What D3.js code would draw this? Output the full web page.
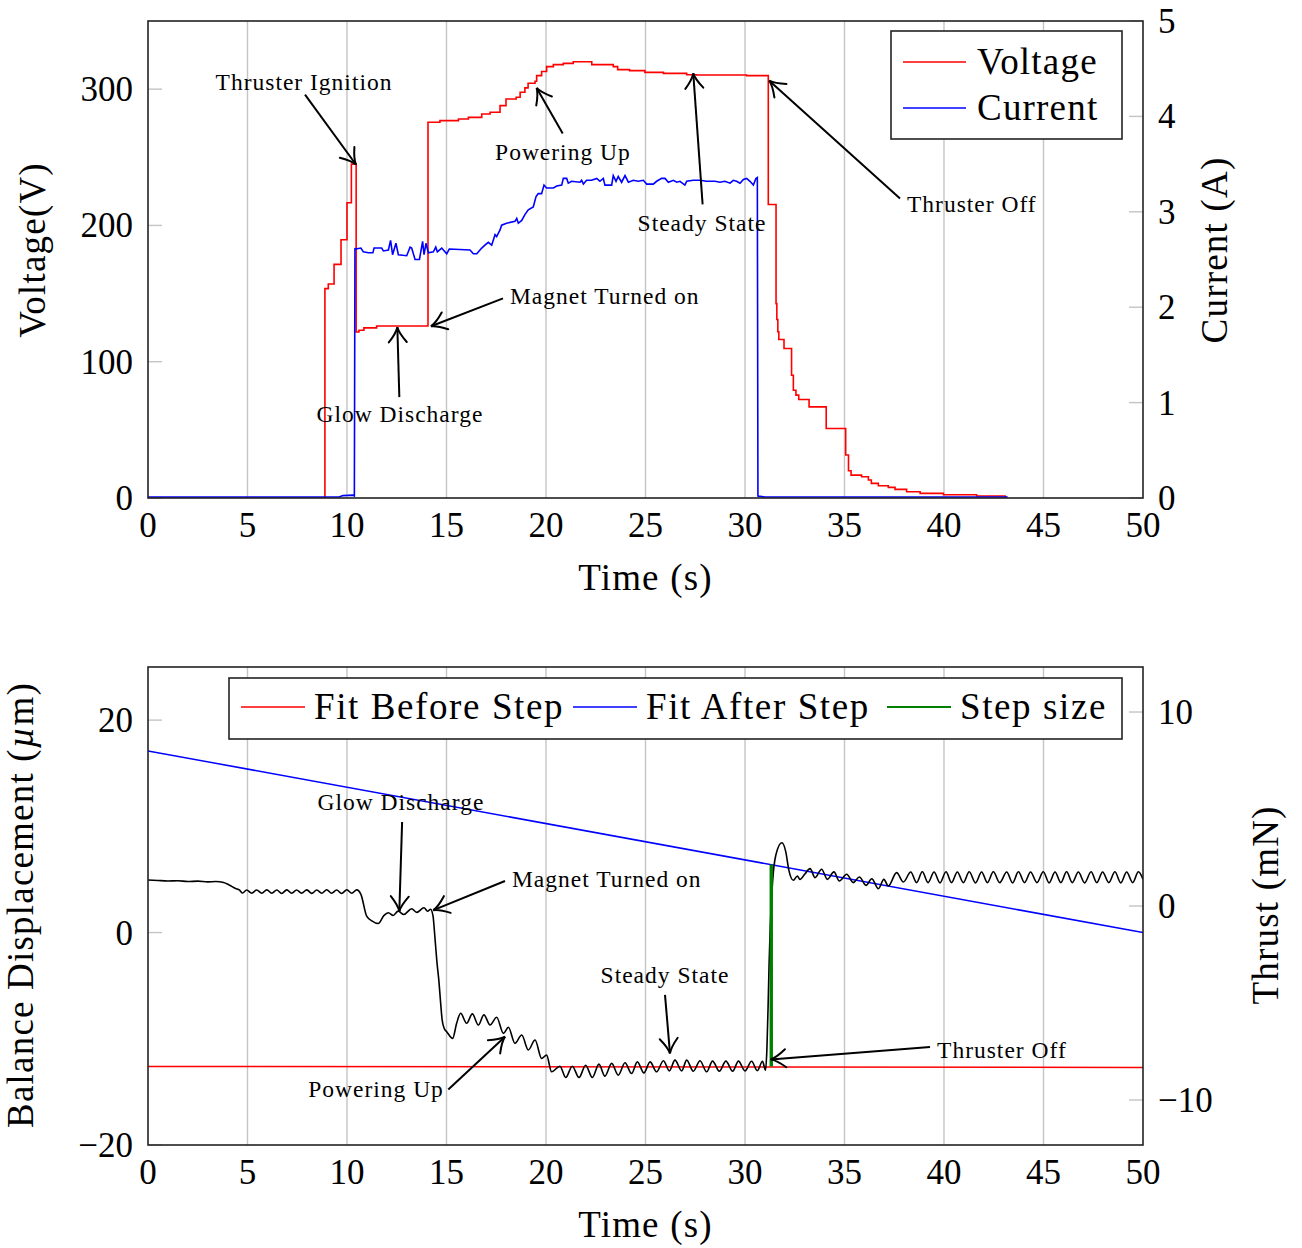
<!DOCTYPE html>
<html>
<head>
<meta charset="utf-8">
<script src="https://cdn.jsdelivr.net/npm/d3@7"></script>
<style>
  html, body { margin: 0; padding: 0; background: #fff; }
  svg text { font-family: "Liberation Serif", "Times New Roman", serif; fill: #000; }
</style>
</head>
<body>
<script>
// ---------- axis ticks ----------
const timeTicks = [0, 5, 10, 15, 20, 25, 30, 35, 40, 45, 50];
const voltageTicks = [0, 100, 200, 300];
const currentTicks = [0, 1, 2, 3, 4, 5];
const displacementTicks = [-20, 0, 20];
const thrustTicks = [-10, 0, 10];

// ---------- thruster electrical trace: [time s, voltage V] (held until next sample) ----------
const voltage = [
  [0, 0], [8.89, 153.6], [9.06, 157], [9.35, 171.4], [9.70, 189.5], [10.0, 216.6], [10.22, 245],
  [10.46, 121.8], [10.6, 123.1], [10.85, 124.8], [11.49, 126.2],
  [14.07, 275.7], [14.67, 276.9], [15.6, 278.1], [16.1, 279.3], [16.77, 281.8], [17.19, 283],
  [17.69, 287.9], [17.99, 292.8], [18.5, 294], [18.7, 297.7], [18.94, 300.9], [19.1, 304.3],
  [19.45, 305.8], [19.53, 309.9], [19.78, 313], [20.03, 316.5], [20.37, 318], [20.87, 318.9],
  [21.37, 320.1], [22.3, 318], [23.38, 316.5], [23.6, 314.3], [24.2, 313.6], [24.97, 312.3],
  [25.9, 311.6], [27.07, 310.6], [27.57, 310.4], [30.08, 309.9],
  [31.17, 215.4], [31.56, 142.6], [31.6, 131], [31.65, 122], [31.7, 116.3], [31.96, 109.7],
  [32.34, 90.1], [32.43, 79.1], [32.56, 75.5], [32.7, 72.3], [33.22, 66.9], [34.08, 51],
  [35.06, 31.5], [35.2, 20], [35.33, 16.8], [35.86, 15.6], [36.2, 13.2], [36.35, 10.7],
  [36.7, 9.0], [37.2, 7.8], [37.54, 6.3], [38.12, 4.6], [38.8, 3.4], [39.97, 2.4],
  [41.64, 1.5], [43.07, 0.7], [43.15, 0.7]
];

// ---------- discharge current: [time s, current A] ----------
const current = [
  [0, 0.01], [9.6, 0.01], [9.8, 0.025], [10.3, 0.03], [10.37, 0.02],
  [10.40, 2.62], [10.42, 2.61], [10.70, 2.62], [10.82, 2.58], [11.07, 2.57], [11.3, 2.57],
  [11.36, 2.62], [11.74, 2.62], [11.83, 2.59], [12.08, 2.60], [12.19, 2.70], [12.29, 2.55],
  [12.46, 2.67], [12.58, 2.55], [13.0, 2.54], [13.17, 2.63], [13.25, 2.62], [13.42, 2.50],
  [13.64, 2.50], [13.80, 2.69], [13.87, 2.55], [13.97, 2.67], [14.09, 2.57], [14.34, 2.58],
  [14.46, 2.63], [14.54, 2.58], [14.76, 2.62], [15.01, 2.56], [15.14, 2.61], [16.18, 2.60],
  [16.35, 2.56], [16.52, 2.56], [16.77, 2.62], [16.93, 2.65], [17.10, 2.68], [17.27, 2.65],
  [17.44, 2.76], [17.52, 2.74], [17.69, 2.81], [17.77, 2.86], [18.02, 2.88], [18.44, 2.90],
  [18.53, 2.93], [18.61, 2.88], [18.78, 2.91], [18.94, 2.97], [19.11, 3.02], [19.36, 3.05],
  [19.50, 3.16], [19.61, 3.19], [19.78, 3.19], [19.90, 3.28], [20.03, 3.25], [20.37, 3.25],
  [20.54, 3.27], [20.79, 3.28], [20.87, 3.35], [21.04, 3.35], [21.12, 3.30], [21.29, 3.32],
  [21.71, 3.31], [21.79, 3.33], [21.88, 3.29], [22.04, 3.33], [22.29, 3.33], [22.55, 3.35],
  [22.71, 3.32], [22.88, 3.35], [22.96, 3.28], [23.30, 3.28], [23.38, 3.38], [23.52, 3.32],
  [23.63, 3.37], [23.80, 3.31], [23.97, 3.38], [24.14, 3.31], [24.39, 3.33], [24.64, 3.32],
  [24.89, 3.33], [25.06, 3.29], [25.39, 3.29], [25.56, 3.32], [25.81, 3.35], [25.98, 3.35],
  [26.15, 3.31], [26.40, 3.33], [26.57, 3.31], [26.73, 3.32], [26.98, 3.28], [27.07, 3.32],
  [27.40, 3.33], [27.74, 3.33], [28.07, 3.32], [28.49, 3.32], [28.74, 3.31], [28.99, 3.32],
  [29.25, 3.30], [29.41, 3.33], [29.58, 3.32], [29.75, 3.30], [29.92, 3.34], [30.08, 3.35],
  [30.25, 3.32], [30.42, 3.28], [30.55, 3.35], [30.62, 3.36], [30.65, 0.02], [31.0, 0.01],
  [43.2, 0.01]
];

// ---------- balance displacement: [time s, displacement um] ----------
const displacement = [
  [0, 4.95], [0.5, 4.9], [1.0, 4.86], [1.5, 4.88], [2.0, 4.8], [2.5, 4.84], [3.0, 4.77],
  [3.4, 4.8], [3.8, 4.72], [4.1, 4.45], [4.4, 4.15], [4.6, 4.0],
  [4.75, 3.72], [4.96, 4.0], [5.21, 3.7], [5.46, 4.0], [5.72, 3.7], [5.97, 4.02], [6.22, 3.7],
  [6.47, 4.0], [6.72, 3.68], [6.97, 4.02], [7.22, 3.7], [7.47, 4.0], [7.72, 3.7], [7.98, 4.02],
  [8.23, 3.69], [8.48, 4.0], [8.73, 3.7], [8.98, 4.03], [9.23, 3.7], [9.48, 4.0], [9.73, 3.68],
  [9.99, 4.03], [10.24, 3.7], [10.49, 4.02],
  [10.7, 3.6], [10.99, 1.54], [11.25, 1.1], [11.57, 0.85], [11.85, 1.6], [12.08, 1.86],
  [12.32, 1.61], [12.57, 2.02], [12.85, 1.7], [13.25, 2.24], [13.5, 1.9], [13.87, 2.33],
  [14.05, 2.0], [14.2, 2.2], [14.32, 1.6], [14.42, -0.5], [14.52, -2.8], [14.62, -4.6],
  [14.7, -6.5], [14.78, -8.2], [14.88, -9.0], [15.01, -9.33], [15.31, -9.96],
  [15.51, -8.54], [15.71, -7.60], [16.01, -8.54], [16.3, -7.66], [16.6, -8.7], [16.88, -7.75],
  [17.19, -8.7], [17.52, -7.97], [17.86, -9.49], [18.11, -8.92], [18.44, -10.43], [18.78, -9.65],
  [19.11, -11.06], [19.45, -10.12], [19.78, -11.85], [20.03, -11.54], [20.28, -13.11],
  [20.7, -12.58], [20.99, -13.65], [21.32, -12.58], [21.66, -13.65], [21.99, -12.49],
  [22.33, -13.65], [22.66, -12.39], [22.96, -13.52], [23.3, -12.32], [23.63, -13.43],
  [23.97, -12.26], [24.3, -13.27], [24.59, -12.17], [24.92, -13.21], [25.23, -12.17],
  [25.56, -13.11], [25.9, -12.07], [26.2, -13.02], [26.48, -12.01], [26.82, -13.02],
  [27.07, -12.01], [27.4, -13.05], [27.74, -12.07], [28.07, -13.11], [28.37, -12.10],
  [28.71, -13.05], [29.04, -12.10], [29.38, -13.05], [29.67, -12.10], [30.0, -13.02],
  [30.33, -12.12], [30.62, -13.0], [30.88, -12.12], [31.03, -12.96],
  [31.1, -11.0], [31.16, -7.0], [31.21, -3.0], [31.27, 0.6], [31.38, 4.6], [31.55, 7.3],
  [31.85, 8.45], [32.05, 7.6], [32.2, 5.9], [32.43, 4.92], [32.63, 5.33], [32.76, 5.0],
  [33.0, 5.49], [33.27, 6.02], [33.52, 5.17], [33.85, 5.96], [34.14, 5.01], [34.47, 5.71],
  [34.74, 4.85], [35.11, 5.49], [35.44, 4.70], [35.75, 5.23], [36.08, 4.44], [36.37, 5.07],
  [36.7, 4.13], [36.98, 5.01], [37.2, 4.38], [37.62, 5.64], [37.96, 4.76],
  [38.33, 5.70], [38.62, 4.70], [38.91, 5.72], [39.2, 4.70], [39.5, 5.70], [39.8, 4.68],
  [40.1, 5.72], [40.38, 4.70], [40.67, 5.70], [40.97, 4.70], [41.27, 5.72], [41.58, 4.68],
  [41.89, 5.70], [42.18, 4.70], [42.48, 5.72], [42.8, 4.70], [43.15, 5.70], [43.45, 4.68],
  [43.74, 5.72], [44.05, 4.70], [44.35, 5.70], [44.67, 4.70], [44.99, 5.72], [45.28, 4.68],
  [45.58, 5.70], [45.87, 4.70], [46.16, 5.72], [46.45, 4.70], [46.75, 5.70], [47.07, 4.68],
  [47.39, 5.72], [47.68, 4.70], [47.97, 5.70], [48.28, 4.70], [48.59, 5.72], [48.88, 4.68],
  [49.18, 5.70], [49.48, 4.70], [49.77, 5.72], [50.0, 5.0]
];

// ---------- linear fits and step ----------
const fitBefore = [[0, -12.6], [50, -12.7]];
const fitAfter = [[0, 17.1], [50, 0.0]];
const stepSize = [[31.32, -12.6], [31.32, 6.4]];

// ---------- legends ----------
const topLegend = [
  { label: "Voltage", color: "#ff0000" },
  { label: "Current", color: "#0000ff" }
];
const bottomLegend = [
  { label: "Fit Before Step", color: "#ff0000", width: 1.5 },
  { label: "Fit After Step", color: "#0000ff", width: 1.5 },
  { label: "Step size", color: "#008000", width: 2.2 }
];

// ---------- annotations (data coordinates) ----------
const topNotes = [
  { text: "Thruster Ignition", at: [7.84, 304.8], from: [7.89, 296], to: [10.45, 244.7], anchor: "middle" },
  { text: "Glow Discharge", at: [12.66, 61.5], from: [12.63, 74], to: [12.53, 125.3], anchor: "middle" },
  { text: "Magnet Turned on", at: [18.19, 148], from: [17.84, 146.5], to: [14.22, 126], anchor: "start" },
  { text: "Powering Up", at: [20.85, 254], from: [20.84, 267.4], to: [19.53, 300.9], anchor: "middle" },
  { text: "Steady State", at: [27.84, 201.5], from: [27.87, 215.4], to: [27.4, 311.6], anchor: "middle" },
  { text: "Thruster Off", at: [38.14, 215.4], from: [37.79, 219.8], to: [31.22, 306.2], anchor: "start" }
];
const bottomNotes = [
  { text: "Glow Discharge", at: [12.71, 12.29], from: [12.77, 10.4], to: [12.63, 1.99], anchor: "middle" },
  { text: "Magnet Turned on", at: [18.29, 5.01], from: [17.94, 4.85], to: [14.34, 2.11], anchor: "start" },
  { text: "Steady State", at: [25.98, -4.0], from: [25.98, -5.86], to: [26.23, -11.38], anchor: "middle" },
  { text: "Thruster Off", at: [39.65, -11.06], from: [39.3, -10.78], to: [31.29, -11.94], anchor: "start" },
  { text: "Powering Up", at: [11.46, -14.75], from: [15.09, -14.78], to: [17.94, -9.8], anchor: "middle" }
];

// ================= drawing =================
const W = 1302, H = 1248;
const svg = d3.select("body").append("svg").attr("width", W).attr("height", H);

const X0 = 148, X1 = 1143;
const GRID = "#c4c4c4";
const TICK_FONT = 35, LABEL_FONT = 37, NOTE_FONT = 23.5;
const fmt = d3.format("");

function arrow(g, x1, y1, x2, y2) {
  g.append("line").attr("x1", x1).attr("y1", y1).attr("x2", x2).attr("y2", y2)
    .attr("stroke", "#000").attr("stroke-width", 2);
  const a = Math.atan2(y2 - y1, x2 - x1);
  const p = (u, v) => [x2 + u * Math.cos(a) - v * Math.sin(a), y2 + u * Math.sin(a) + v * Math.cos(a)];
  const A = p(-15, -9), C1 = p(-6, -1.5), B = p(-15, 9), C2 = p(-6, 1.5);
  g.append("path")
    .attr("d", `M${A}Q${C1} ${x2},${y2}Q${C2} ${B}`)
    .attr("fill", "none").attr("stroke", "#000").attr("stroke-width", 2)
    .attr("stroke-linecap", "round");
}

function panel(opts) {
  const g = svg.append("g");
  const x = d3.scaleLinear().domain([0, 50]).range([X0, X1]);
  const yL = d3.scaleLinear().domain(opts.leftDomain).range([opts.bottom, opts.top]);
  const yR = d3.scaleLinear().domain(opts.rightDomain).range([opts.bottom, opts.top]);

  // clip region for the data lines
  const clipId = "clip" + opts.id;
  svg.append("clipPath").attr("id", clipId).append("rect")
    .attr("x", X0).attr("y", opts.top).attr("width", X1 - X0).attr("height", opts.bottom - opts.top);

  // vertical grid
  g.append("g").selectAll("line").data(timeTicks.filter(d => d > 0 && d < 50)).join("line")
    .attr("x1", d => x(d)).attr("x2", d => x(d))
    .attr("y1", opts.top).attr("y2", opts.bottom)
    .attr("stroke", GRID).attr("stroke-width", 1.4);

  // inward tick marks
  g.append("g").selectAll("line").data(opts.leftTicks).join("line")
    .attr("x1", X0).attr("x2", X0 + 14).attr("y1", d => yL(d)).attr("y2", d => yL(d))
    .attr("stroke", GRID).attr("stroke-width", 1.4);
  g.append("g").selectAll("line").data(opts.rightTicks).join("line")
    .attr("x1", X1 - 14).attr("x2", X1).attr("y1", d => yR(d)).attr("y2", d => yR(d))
    .attr("stroke", GRID).attr("stroke-width", 1.4);

  const data = g.append("g").attr("clip-path", `url(#${clipId})`);
  opts.draw(data, x, yL, yR);

  // annotations
  const notes = g.append("g");
  opts.notes.forEach(n => {
    arrow(notes, x(n.from[0]), yL(n.from[1]), x(n.to[0]), yL(n.to[1]));
    notes.append("text").attr("x", x(n.at[0])).attr("y", yL(n.at[1])).attr("dy", "0.33em")
      .attr("text-anchor", n.anchor).attr("font-size", NOTE_FONT).attr("letter-spacing", 1)
      .text(n.text);
  });

  // frame
  g.append("rect").attr("x", X0).attr("y", opts.top).attr("width", X1 - X0).attr("height", opts.bottom - opts.top)
    .attr("fill", "none").attr("stroke", "#222").attr("stroke-width", 1.6);

  // tick labels
  g.append("g").selectAll("text").data(timeTicks).join("text")
    .attr("x", d => x(d)).attr("y", opts.bottom + 39).attr("text-anchor", "middle")
    .attr("font-size", TICK_FONT).text(fmt);
  g.append("g").selectAll("text").data(opts.leftTicks).join("text")
    .attr("x", X0 - 15).attr("y", d => yL(d) + 12).attr("text-anchor", "end")
    .attr("font-size", TICK_FONT).text(fmt);
  g.append("g").selectAll("text").data(opts.rightTicks).join("text")
    .attr("x", X1 + 15).attr("y", d => yR(d) + 12).attr("text-anchor", "start")
    .attr("font-size", TICK_FONT).text(fmt);

  // axis titles
  g.append("text").attr("x", (X0 + X1) / 2).attr("y", opts.bottom + 92).attr("text-anchor", "middle")
    .attr("font-size", LABEL_FONT).attr("letter-spacing", 1.2).text("Time (s)");
  const lt = g.append("text").attr("transform", `translate(${opts.leftLabelX},${opts.labelY}) rotate(-90)`)
    .attr("text-anchor", "middle").attr("font-size", LABEL_FONT).attr("letter-spacing", 1.2);
  opts.leftLabel(lt);
  g.append("text").attr("transform", `translate(${opts.rightLabelX},${opts.labelY}) rotate(-90)`)
    .attr("text-anchor", "middle").attr("font-size", LABEL_FONT).attr("letter-spacing", 1.2)
    .text(opts.rightLabel);

  return g;
}

// ---------- upper panel: voltage and current ----------
panel({
  id: "upper", top: 21, bottom: 498,
  leftDomain: [0, 350], rightDomain: [0, 5],
  leftTicks: voltageTicks, rightTicks: currentTicks,
  leftLabelX: 45, rightLabelX: 1227, labelY: 250,
  leftLabel: t => t.text("Voltage(V)"),
  rightLabel: "Current (A)",
  notes: topNotes,
  draw: (g, x, yL, yR) => {
    g.append("path").datum(voltage)
      .attr("d", d3.line().x(d => x(d[0])).y(d => yL(d[1])).curve(d3.curveStepAfter))
      .attr("fill", "none").attr("stroke", "#ff0000").attr("stroke-width", 1.6);
    g.append("path").datum(current)
      .attr("d", d3.line().x(d => x(d[0])).y(d => yR(d[1])))
      .attr("fill", "none").attr("stroke", "#0000ff").attr("stroke-width", 1.6);
  }
});

// upper legend
{
  const lg = svg.append("g");
  lg.append("rect").attr("x", 891).attr("y", 31).attr("width", 231).attr("height", 108)
    .attr("fill", "#fff").attr("stroke", "#222").attr("stroke-width", 1.6);
  topLegend.forEach((d, i) => {
    const cy = 62 + i * 46;
    lg.append("line").attr("x1", 903).attr("x2", 966).attr("y1", cy).attr("y2", cy)
      .attr("stroke", d.color).attr("stroke-width", 1.6);
    lg.append("text").attr("x", 977).attr("y", cy + 12).attr("font-size", LABEL_FONT)
      .attr("letter-spacing", 1.2).text(d.label);
  });
}

// ---------- lower panel: balance displacement ----------
panel({
  id: "lower", top: 667, bottom: 1145,
  leftDomain: [-20, 25], rightDomain: [-12.32, 12.32],
  leftTicks: displacementTicks, rightTicks: thrustTicks,
  leftLabelX: 33, rightLabelX: 1278, labelY: 905,
  leftLabel: t => {
    t.append("tspan").text("Balance Displacement (");
    t.append("tspan").attr("font-style", "italic").text("µ");
    t.append("tspan").text("m)");
  },
  rightLabel: "Thrust (mN)",
  notes: bottomNotes,
  draw: (g, x, yL) => {
    const lin = d3.line().x(d => x(d[0])).y(d => yL(d[1]));
    g.append("path").datum(fitBefore).attr("d", lin)
      .attr("fill", "none").attr("stroke", "#ff0000").attr("stroke-width", 1.5);
    g.append("path").datum(fitAfter).attr("d", lin)
      .attr("fill", "none").attr("stroke", "#0000ff").attr("stroke-width", 1.5);
    g.append("path").datum(displacement)
      .attr("d", d3.line().x(d => x(d[0])).y(d => yL(d[1])).curve(d3.curveMonotoneX))
      .attr("fill", "none").attr("stroke", "#000").attr("stroke-width", 1.6);
    g.append("path").datum(stepSize).attr("d", lin)
      .attr("fill", "none").attr("stroke", "#008000").attr("stroke-width", 3.4);
  }
});

// lower legend
{
  const lg = svg.append("g");
  lg.append("rect").attr("x", 229).attr("y", 678).attr("width", 893).attr("height", 61)
    .attr("fill", "#fff").attr("stroke", "#222").attr("stroke-width", 1.6);
  const slots = [241, 573, 887];
  bottomLegend.forEach((d, i) => {
    const x0 = slots[i];
    lg.append("line").attr("x1", x0).attr("x2", x0 + 64).attr("y1", 707).attr("y2", 707)
      .attr("stroke", d.color).attr("stroke-width", d.width);
    lg.append("text").attr("x", x0 + 73).attr("y", 719).attr("font-size", LABEL_FONT)
      .attr("letter-spacing", 1.6).text(d.label);
  });
}
</script>
</body>
</html>
